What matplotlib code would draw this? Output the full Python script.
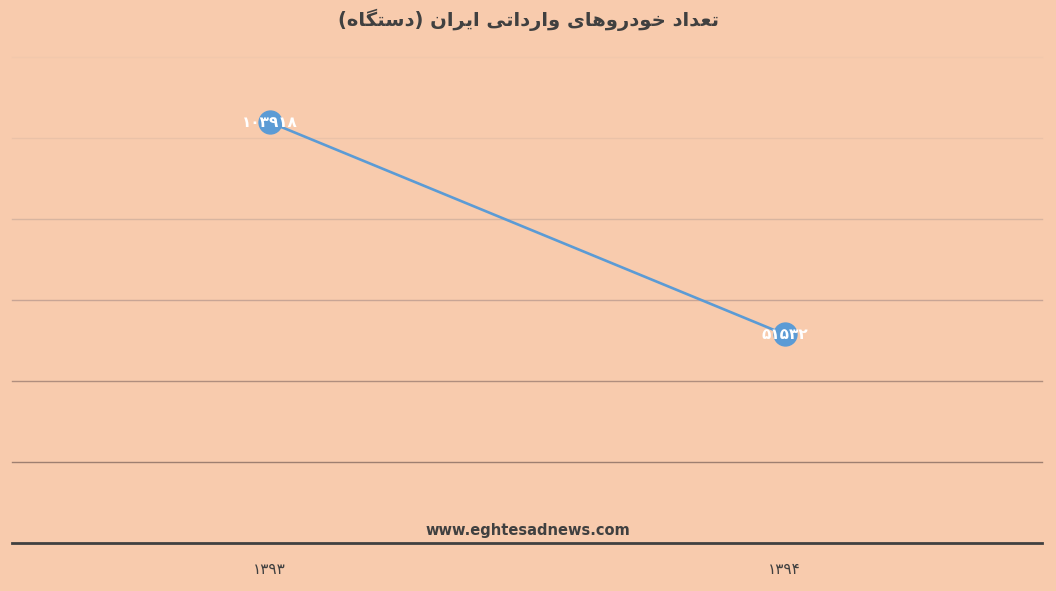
import matplotlib
matplotlib.use("Agg")
import matplotlib.pyplot as plt

# ---- data ----
categories = ["۱۳۹۳", "۱۳۹۴"]
values = [103918, 51532]
value_labels = ["۱۰۳۹۱۸", "۵۱۵۳۲"]
title_text = "تعداد خودروهای وارداتی ایران (دستگاه)"
watermark = "www.eghtesadnews.com"

# ---- minimal Persian shaping ----
FORMS = {
    'ا': ('\uFE8D', '\uFE8E', None, None),
    'د': ('\uFEA9', '\uFEAA', None, None),
    'ر': ('\uFEAD', '\uFEAE', None, None),
    'و': ('\uFEED', '\uFEEE', None, None),
    'ت': ('\uFE95', '\uFE96', '\uFE97', '\uFE98'),
    'ع': ('\uFEC9', '\uFECA', '\uFECB', '\uFECC'),
    'خ': ('\uFEA5', '\uFEA6', '\uFEA7', '\uFEA8'),
    'ه': ('\uFEE9', '\uFEEA', '\uFEEB', '\uFEEC'),
    'ی': ('\uFBFC', '\uFBFD', '\uFBFE', '\uFBFF'),
    'ن': ('\uFEE5', '\uFEE6', '\uFEE7', '\uFEE8'),
    'س': ('\uFEB1', '\uFEB2', '\uFEB3', '\uFEB4'),
    'گ': ('\uFB92', '\uFB93', '\uFB94', '\uFB95'),
    'ل': ('\uFEDD', '\uFEDE', '\uFEDF', '\uFEE0'),
}


def dual(c):
    return c in FORMS and FORMS[c][2] is not None


def shape_word(w):
    out = []
    for i, c in enumerate(w):
        if c not in FORMS:
            out.append(c)
            continue
        prev = w[i - 1] if i > 0 else None
        nxt = w[i + 1] if i + 1 < len(w) else None
        join_prev = prev is not None and dual(prev)
        join_next = nxt is not None and nxt in FORMS and dual(c)
        iso, fin, ini, med = FORMS[c]
        if join_prev and join_next:
            out.append(med)
        elif join_prev:
            out.append(fin)
        elif join_next:
            out.append(ini)
        else:
            out.append(iso)
    return ''.join(out)


def rtl(text):
    words = text.split(' ')
    vis = []
    for w in words:
        pre, post = '', ''
        if w.startswith('('):
            w = w[1:]
            post = ')'
        if w.endswith(')'):
            w = w[:-1]
            pre = '('
        vis.append(pre + shape_word(w)[::-1] + post)
    return ' '.join(vis[::-1])


BG = "#F8CBAD"
DARK = "#404040"
fig = plt.figure(figsize=(10.56, 5.91), dpi=100, facecolor=BG)
ax = fig.add_axes([12 / 1056, 1 - 543 / 591, 1030 / 1056, 486 / 591])
ax.set_facecolor(BG)

x = list(range(len(categories)))
ax.set_xlim(-0.5, len(categories) - 0.5)
ax.set_ylim(0, 120000)

grid_vals = [20000, 40000, 60000, 80000, 100000, 120000]
grid_cols = ["#9E7F70", "#B08E7E", "#C8A595", "#D8B5A0", "#EAC2A8", "#F2C8AC"]
for gv, gc in zip(grid_vals, grid_cols):
    ax.axhline(gv, color=gc, lw=1.0, zorder=1, clip_on=False)

ax.plot(x, values, color="#5B9BD5", lw=1.9, marker="o", markersize=16.5,
        markerfacecolor="#5B9BD5", markeredgecolor="#5B9BD5", zorder=3)
for xi, v, lab in zip(x, values, value_labels):
    ax.text(xi, v, lab, color="white", fontsize=11, fontweight="bold",
            ha="center", va="center", zorder=4)

for s in ["top", "right", "left"]:
    ax.spines[s].set_visible(False)
ax.spines["bottom"].set_color(DARK)
ax.spines["bottom"].set_linewidth(2)
ax.set_yticks([])
ax.set_xticks(x)
ax.set_xticklabels(categories, fontsize=11, color=DARK)
ax.tick_params(axis="x", length=0, pad=14)

fig.text(0.5, 1 - 20 / 591, rtl(title_text), ha="center", va="center",
         fontsize=14, fontweight="bold", color=DARK)
fig.text(0.5, 1 - 531 / 591, watermark, ha="center", va="center",
         fontsize=10.5, fontweight="bold", color=DARK)

fig.savefig("out.png", dpi=100, facecolor=BG)
